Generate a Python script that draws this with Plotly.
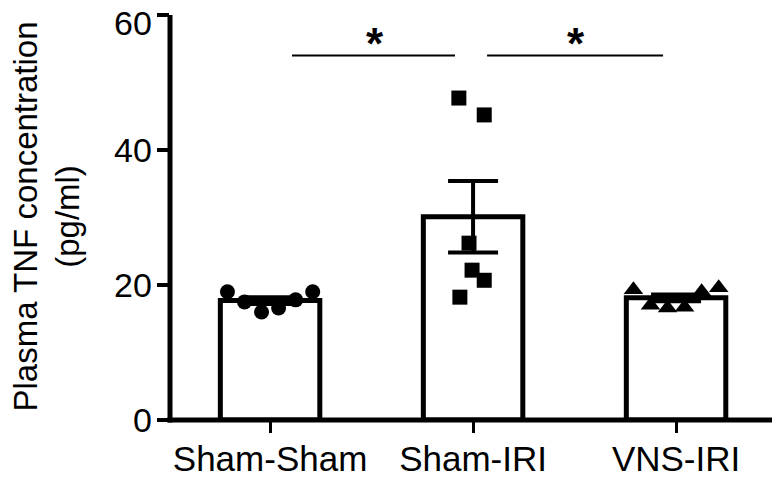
import plotly.graph_objects as go

categories = ["Sham-Sham", "Sham-IRI", "VNS-IRI"]
sham_sham = [19.0, 17.5, 16.0, 16.6, 17.8, 19.0]
sham_iri = [47.7, 45.2, 26.2, 22.2, 20.7, 18.2]
vns_iri = [19.3, 17.0, 16.6, 16.7, 19.0, 19.6]
bar_means = [17.7, 30.1, 18.1]
bar_sem = [0.5, 5.3, 0.5]
y_ticks = [0, 20, 40, 60]

# horizontal scatter spread of points (layout)
spread_even = [-0.21, -0.126, -0.042, 0.042, 0.126, 0.21]
spread_iri = [-0.07, 0.055, -0.02, -0.005, 0.055, -0.065]

FONT = "Arial, Liberation Sans, sans-serif"
xpos = list(range(len(categories)))
Y_MAX = 60.3

fig = go.Figure()
fig.add_trace(go.Bar(
    x=xpos, y=bar_means, width=0.49,
    marker=dict(color="white", line=dict(color="black", width=5)),
    error_y=dict(type="data", array=bar_sem, visible=True, color="black",
                 thickness=4, width=25),
    showlegend=False, hoverinfo="skip",
))

groups = [(sham_sham, spread_even, "circle", 15),
          (sham_iri, spread_iri, "square", 15),
          (vns_iri, spread_even, "triangle-up", 17)]
for i, (vals, spread, sym, size) in enumerate(groups):
    fig.add_trace(go.Scatter(
        x=[i + s for s in spread], y=vals, mode="markers",
        marker=dict(symbol=sym, size=size, color="black", line=dict(width=0)),
        showlegend=False, cliponaxis=False,
    ))

# axis lines
fig.add_shape(type="line", xref="paper", yref="paper", x0=-0.004, x1=1, y0=0, y1=0,
              line=dict(color="black", width=5))
fig.add_shape(type="line", xref="paper", yref="paper", x0=0, x1=0, y0=-0.006, y1=60 / Y_MAX,
              line=dict(color="black", width=5))

# y tick labels (top label kept inside the figure)
for v in y_ticks:
    fig.add_annotation(x=0, xref="paper", y=v, yref="y", text=str(v), showarrow=False,
                       xanchor="right", yanchor="middle", xshift=-16,
                       yshift=-8 if v == max(y_ticks) else 0,
                       font=dict(family=FONT, size=34, color="black"))

# significance brackets
sig_y = 54.0
for x0, x1 in [(0.108, 0.911), (1.069, 1.936)]:
    fig.add_shape(type="line", xref="x", yref="y", x0=x0, x1=x1, y0=sig_y, y1=sig_y,
                  line=dict(color="black", width=2))
    fig.add_annotation(x=(x0 + x1) / 2 + 0.005, y=sig_y, xref="x", yref="y", text="<b>*</b>",
                       showarrow=False, font=dict(family=FONT, size=44, color="black"),
                       yanchor="bottom", yshift=-14)

fig.add_annotation(text="Plasma TNF concentration<br>(pg/ml)", textangle=-90,
                   xref="paper", yref="paper", x=0, y=0.5, xanchor="center", yanchor="middle",
                   xshift=-124, showarrow=False,
                   font=dict(family=FONT, size=33, color="black"))

fig.update_layout(
    width=772, height=471,
    margin=dict(l=162, r=0, t=5, b=59),
    plot_bgcolor="white", paper_bgcolor="white",
    font=dict(family=FONT, size=33, color="black"),
    xaxis=dict(range=[-0.493, 2.512], tickmode="array", tickvals=xpos, ticktext=categories,
               showline=False, ticks="outside", automargin=False, ticklabelstandoff=-4,
               ticklen=12, tickwidth=3, tickcolor="black", showgrid=False, zeroline=False,
               ticklabeloverflow="allow", tickfont=dict(family=FONT, size=35)),
    yaxis=dict(range=[0, Y_MAX], tickvals=y_ticks, showline=False, automargin=False,
               ticks="outside", ticklen=12, tickwidth=4, tickcolor="black",
               showticklabels=False, showgrid=False, zeroline=False),
)

fig.write_html("out.html")
